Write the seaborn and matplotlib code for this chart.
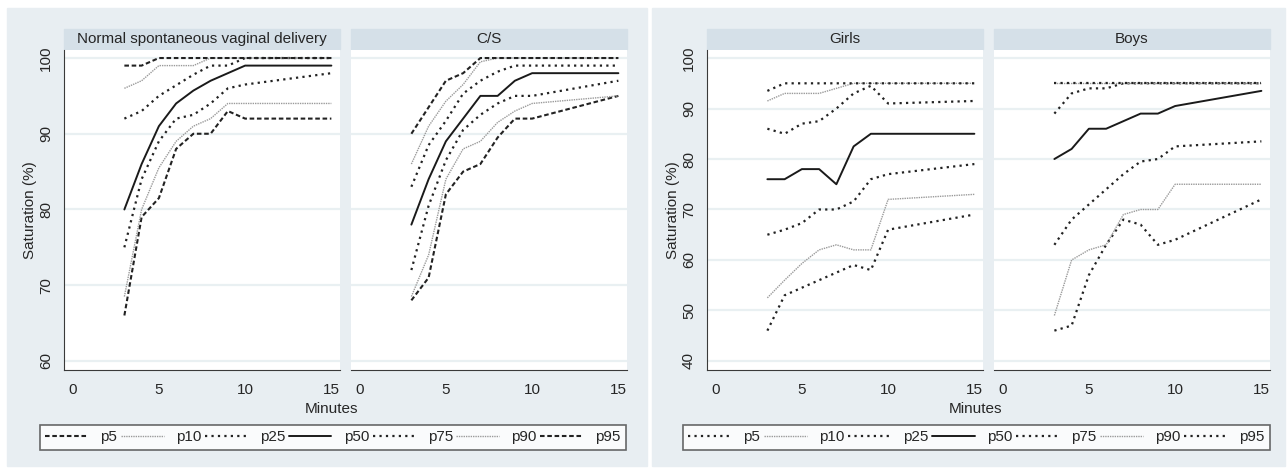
import matplotlib
matplotlib.use("Agg")
import matplotlib.pyplot as plt
import seaborn as sns
import pandas as pd
from matplotlib.patches import Rectangle
from matplotlib.lines import Line2D

# --- data ---
minutes = [3, 4, 5, 6, 7, 8, 9, 10, 15]
percentiles = ["p5", "p10", "p25", "p50", "p75", "p90", "p95"]

nsvd = {
    "p5":  [66, 79, 81.5, 88, 90, 90, 93, 92, 92],
    "p10": [68.5, 80, 85.5, 89, 91, 92, 94, 94, 94],
    "p25": [75, 84, 89, 92, 92.5, 94, 96, 96.5, 98],
    "p50": [80, 86, 91, 94, 95.7, 97, 98, 99, 99],
    "p75": [92, 93, 95, 96.4, 97.8, 99, 99, 100, 100],
    "p90": [96, 97, 99, 99, 99, 100, 100, 100, 100],
    "p95": [99, 99, 100, 100, 100, 100, 100, 100, 100],
}
cs = {
    "p5":  [68, 71, 82, 85, 86, 89.5, 92, 92, 95],
    "p10": [68.5, 74, 84, 88, 89, 91.5, 93, 94, 95],
    "p25": [72, 80.5, 86.5, 90.5, 92.5, 94, 95, 95, 97],
    "p50": [78, 84, 89, 92, 95, 95, 97, 98, 98],
    "p75": [83, 88.5, 91.7, 95.3, 97, 98.2, 99, 99, 99],
    "p90": [86, 91, 94.3, 96.5, 99.5, 100, 100, 100, 100],
    "p95": [90, 93.5, 97, 98, 100, 100, 100, 100, 100],
}
girls = {
    "p5":  [46, 53, 54.5, 56, 57.5, 59, 58, 66, 69],
    "p10": [52.5, 56, 59.3, 62, 63, 62, 62, 72, 73],
    "p25": [65, 66, 67.3, 70, 70, 71.6, 76, 77, 79],
    "p50": [76, 76, 78, 78, 75, 82.5, 85, 85, 85],
    "p75": [86, 85, 87, 87.5, 90, 93, 94.5, 91, 91.5],
    "p90": [91.5, 93, 93, 93, 94, 95, 95, 95, 95],
    "p95": [93.5, 95, 95, 95, 95, 95, 95, 95, 95],
}
boys = {
    "p5":  [46, 47, 57, 63, 68, 67, 63, 64, 72],
    "p10": [49, 60, 62, 63, 69, 70, 70, 75, 75],
    "p25": [63, 68, 71, 74, 77, 79.5, 80, 82.5, 83.5],
    "p50": [80, 82, 86, 86, 87.5, 89, 89, 90.5, 93.5],
    "p75": [89, 93, 94, 94, 95, 95, 95, 95, 95],
    "p90": [95, 95, 95, 95, 95, 95, 95, 95, 95],
    "p95": [95, 95, 95, 95, 95, 95, 95, 95, 95],
}

# --- styles ---
BG = "#e8eef2"
STRIP = "#d5e0e8"
GRID = "#e9f0f2"
DARK = "#3a3a3a"

dashed = dict(color="#222222", lw=1.5, ls=(0, (2.2, 1.3)))
dotted = dict(color="#222222", lw=1.6, ls=(0, (1, 1.9)))
gray = dict(color="#9a9a9a", lw=1.0, ls=(0, (1, 0.7)))
solid = dict(color="#1a1a1a", lw=1.4, ls="-")

left_styles = {"p5": dashed, "p10": gray, "p25": dotted, "p50": solid,
               "p75": dotted, "p90": gray, "p95": dashed}
right_styles = {"p5": dotted, "p10": gray, "p25": dotted, "p50": solid,
                "p75": dotted, "p90": gray, "p95": dotted}

sns.set_style("white")
plt.rcParams["font.family"] = ["Liberation Sans", "DejaVu Sans"]
plt.rcParams["font.size"] = 11

W, H = 1288, 471
fig = plt.figure(figsize=(W / 100, H / 100), dpi=100, facecolor="white")


def fx(px):
    return px / W


def fy(py):
    return 1 - py / H


# graph backgrounds
for x0, x1 in [(7, 647), (652, 1285)]:
    fig.patches.append(Rectangle((fx(x0), fy(466)), fx(x1) - fx(x0), fy(8) - fy(466),
                                 transform=fig.transFigure, color=BG, zorder=-3))


def facet(x0, x1, data, styles, title, ylim, yticks, first):
    ax = fig.add_axes([fx(x0), fy(370), fx(x1) - fx(x0), fy(50) - fy(370)])
    ax.set_facecolor("white")
    for p in percentiles:
        st = styles[p]
        df = pd.DataFrame({"Minutes": minutes, "Saturation": data[p]})
        sns.lineplot(data=df, x="Minutes", y="Saturation", ax=ax, errorbar=None,
                     sort=False, legend=False, color=st["color"],
                     linewidth=st["lw"], linestyle=st["ls"])
    ax.set_xlim(-0.5, 15.5)
    ax.set_ylim(*ylim)
    ax.set_xticks([0, 5, 10, 15])
    ax.set_xticks(range(0, 16), minor=True)
    ax.set_yticks(yticks)
    ax.set_xlabel("")
    ax.set_ylabel("")
    ax.yaxis.grid(True, color=GRID, lw=1.6)
    ax.set_axisbelow(True)
    for s in ["top", "right"]:
        ax.spines[s].set_visible(False)
    ax.spines["bottom"].set_color(DARK)
    ax.spines["left"].set_color(DARK)
    ax.tick_params(axis="x", which="major", length=6, color=DARK, labelsize=11, pad=3)
    ax.tick_params(axis="x", which="minor", length=3, color=DARK)
    if first:
        ax.tick_params(axis="y", length=5, color=DARK, labelsize=11,
                       labelrotation=90, pad=3)
        for t in ax.get_yticklabels():
            t.set_va("center")
    else:
        ax.spines["left"].set_visible(False)
        ax.tick_params(axis="y", left=False, labelleft=False)
    # strip header
    fig.patches.append(Rectangle((fx(x0), fy(49)), fx(x1) - fx(x0), fy(29) - fy(49),
                                 transform=fig.transFigure, color=STRIP, zorder=-1))
    fig.text(fx((x0 + x1) / 2), fy(39), title, ha="center", va="center", fontsize=11)
    return ax


facet(64, 340, nsvd, left_styles, "Normal spontaneous vaginal delivery",
      (58.8, 101.06), [60, 70, 80, 90, 100], True)
facet(351, 627, cs, left_styles, "C/S", (58.8, 101.06), [60, 70, 80, 90, 100], False)
facet(707, 983, girls, right_styles, "Girls", (38.2, 101.6),
      [40, 50, 60, 70, 80, 90, 100], True)
facet(994, 1270, boys, right_styles, "Boys", (38.2, 101.6),
      [40, 50, 60, 70, 80, 90, 100], False)

# axis titles
for cx in [332, 975]:
    fig.text(fx(cx), fy(409), "Minutes", ha="center", va="center", fontsize=11)
for cx in [30, 673]:
    fig.text(fx(cx), fy(210), "Saturation (%)", ha="center", va="center",
             rotation=90, fontsize=11)

# legends
for (lx0, lx1), styles in [((40, 626), left_styles), ((683, 1270), right_styles)]:
    handles = [Line2D([], [], color=styles[p]["color"], lw=styles[p]["lw"],
                      ls=styles[p]["ls"]) for p in percentiles]
    leg = fig.legend(handles, percentiles, loc="center",
                     bbox_to_anchor=(fx(lx0), fy(452), fx(lx1) - fx(lx0), fy(423) - fy(452)),
                     bbox_transform=fig.transFigure, mode="expand", ncol=7,
                     frameon=True, fancybox=False, edgecolor="#444444",
                     handlelength=2.8, handletextpad=0.8, borderaxespad=0,
                     borderpad=0.35, columnspacing=1.0, fontsize=11)
    leg.get_frame().set_linewidth(1.2)
    leg.get_frame().set_facecolor("white")

fig.savefig("out.png", dpi=100, facecolor="white")
